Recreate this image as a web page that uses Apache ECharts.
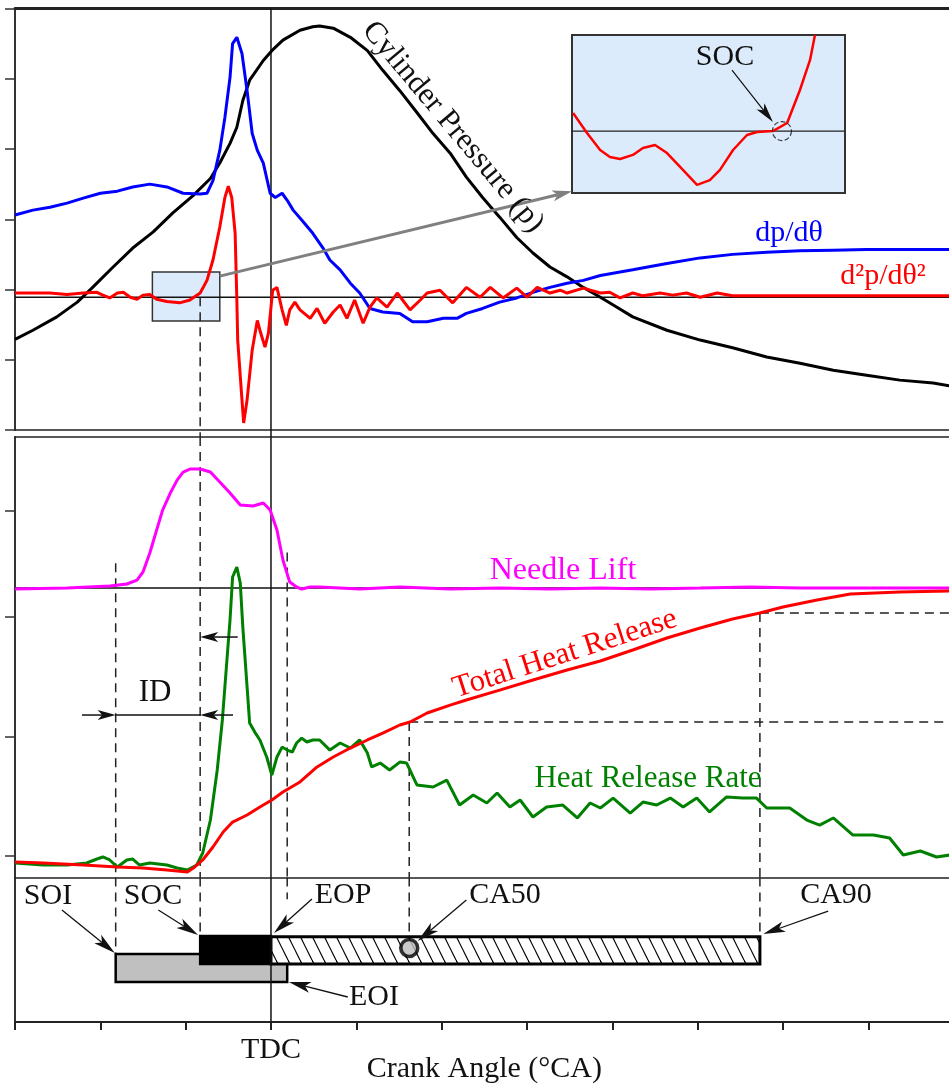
<!DOCTYPE html>
<html>
<head>
<meta charset="utf-8">
<title>Combustion event schematic</title>
<script src="https://cdn.jsdelivr.net/npm/echarts@6/dist/echarts.min.js"></script>
<style>
  html, body { margin: 0; padding: 0; background: #fff; }
  #chart { width: 949px; height: 1083px; }
</style>
</head>
<body>
<div id="chart"></div>
<script>
// x: crank angle in degrees, TDC = 0. y: arbitrary units per panel
const crankMin = -30
const crankMax = 80
const crankStep = 10
const tickLabels = { 0: 'TDC' }
const midTicks = [0, 9.94, 19.9, 28.8]

// events (°CA)
const SOI = -18.2
const SOC = -8.3
const TDC = 0
const EOI = 1.9
const CA50 = 16.2
const CA90 = 57.3

// reference levels
const topZero = 18.9      // d2p/dθ2 = 0
const needleBase = 22.33  // needle lift = 0
const thrAt50 = 11.17
const thrAt90 = 20.25

// top panel
const cylPressure = [[-30.0,12.9],[-27.9,14.2],[-25.1,16.1],[-22.7,18.2],[-20.9,20.3],[-18.5,23.2],[-16.2,25.9],[-13.8,28.2],[-11.5,30.9],[-9.1,33.4],[-7.1,35.8],[-6.0,38.0],[-4.8,40.8],[-4.0,43.1],[-3.3,46.9],[-2.5,49.8],[-0.9,52.6],[0.1,54.0],[1.4,55.5],[3.4,56.9],[4.9,57.4],[5.7,57.5],[7.3,57.2],[9.3,55.9],[11.3,54.0],[13.1,51.2],[15.1,48.3],[17.1,45.2],[19.0,42.2],[21.0,39.4],[22.9,36.0],[24.8,33.1],[26.8,30.3],[28.8,27.4],[30.7,25.2],[32.7,23.2],[34.7,21.8],[36.6,20.3],[38.6,18.9],[40.5,17.5],[42.4,16.1],[46.4,14.2],[50.3,12.8],[54.1,11.7],[58.1,10.4],[62.0,9.5],[65.9,8.5],[69.8,7.8],[73.7,7.1],[77.6,6.7],[79.5,6.3]]

const dpdTheta = [[-30.0,30.6],[-27.9,31.3],[-25.9,31.7],[-23.9,32.3],[-22.0,33.0],[-20.0,33.7],[-18.0,34.0],[-16.2,34.6],[-14.2,35.0],[-12.2,34.6],[-10.3,33.7],[-8.3,33.6],[-7.5,33.7],[-6.8,35.5],[-6.0,39.8],[-5.4,44.5],[-4.8,50.2],[-4.5,55.0],[-4.0,55.9],[-3.4,53.6],[-2.8,48.3],[-2.2,42.2],[-1.6,39.8],[-0.9,38.0],[-0.1,33.7],[0.5,33.1],[1.3,33.7],[1.9,32.7],[2.6,31.3],[3.6,29.9],[4.9,28.0],[6.1,25.9],[6.9,24.2],[8.1,22.8],[9.3,20.9],[10.4,19.5],[11.6,17.3],[13.1,16.8],[15.1,16.6],[16.6,15.4],[18.3,15.4],[20.2,15.9],[21.8,15.9],[22.9,16.6],[24.8,17.3],[26.8,18.2],[28.8,18.8],[30.7,19.6],[32.7,20.3],[34.7,20.9],[36.6,21.3],[38.6,22.0],[42.4,22.8],[46.4,23.7],[50.3,24.5],[54.1,25.0],[58.1,25.3],[62.0,25.5],[65.9,25.6],[69.8,25.7],[79.5,25.7]]

const d2pdTheta2 = [[-30.0,19.5],[-28.6,19.5],[-25.9,19.5],[-23.9,19.3],[-22.0,19.5],[-20.4,19.6],[-19.7,19.2],[-18.9,18.8],[-18.0,19.5],[-17.3,19.6],[-16.5,18.9],[-15.7,18.6],[-15.0,19.2],[-14.2,19.3],[-13.4,18.6],[-12.2,18.3],[-10.7,18.1],[-9.5,18.5],[-8.3,19.5],[-7.5,21.3],[-6.8,24.2],[-6.0,28.9],[-5.4,33.1],[-5.0,34.7],[-4.6,33.1],[-4.2,28.0],[-4.0,18.5],[-3.9,12.8],[-3.4,4.3],[-3.2,1.0],[-2.8,4.3],[-2.2,11.4],[-1.6,15.6],[-1.3,14.2],[-0.7,11.8],[-0.3,13.8],[0.2,19.9],[0.7,20.3],[1.3,17.1],[1.8,14.9],[2.2,17.1],[2.8,18.2],[3.4,17.1],[4.6,15.9],[5.4,17.3],[6.3,15.2],[7.3,16.8],[8.1,17.8],[8.9,15.9],[9.8,18.5],[10.8,15.2],[11.6,17.5],[12.4,18.8],[13.6,17.5],[14.8,19.5],[16.3,17.1],[17.5,18.5],[18.3,19.5],[19.8,19.9],[21.3,18.1],[22.9,20.3],[24.5,18.9],[25.7,20.3],[27.2,18.8],[28.8,20.2],[30.0,18.9],[31.2,20.3],[32.7,19.5],[33.9,19.9],[34.7,19.5],[36.6,20.2],[38.6,19.5],[39.7,19.6],[40.9,18.8],[42.4,19.5],[43.6,19.1],[45.6,19.5],[47.1,19.2],[48.7,19.5],[50.3,18.9],[52.3,19.5],[54.1,19.1],[58.1,19.1],[79.5,19.1]]

// zoomed inset (local 0..100 units)
const insetD2p = [[0.4,50.6],[5.5,38.0],[10.3,27.2],[13.9,22.8],[17.6,21.5],[22.3,24.1],[26.0,28.5],[30.4,30.4],[34.8,25.3],[39.6,16.5],[45.8,5.1],[50.5,8.2],[54.2,14.6],[59.0,27.2],[64.1,36.7],[67.8,38.6],[73.6,39.2],[78.8,44.3],[83.5,65.2],[87.2,84.2],[89.0,100]]
const insetZero = 39.2
const insetSoc = [76.9, 39.2]

// middle panel
const needleLift = [[-30.0,22.25],[-23.9,22.33],[-18.9,22.5],[-16.9,22.67],[-15.7,23.0],[-15.0,23.67],[-14.2,25.25],[-13.4,27.17],[-12.7,28.83],[-11.8,30.25],[-11.0,31.33],[-10.3,32.0],[-9.5,32.25],[-8.3,32.25],[-7.1,32.0],[-6.0,31.17],[-4.8,30.25],[-3.6,29.25],[-2.1,29.17],[-0.9,29.42],[-0.1,28.83],[0.7,27.17],[1.4,24.67],[2.2,22.83],[3.0,22.42],[3.6,22.25],[4.6,22.42],[5.7,22.42],[10.4,22.25],[15.1,22.42],[21.0,22.25],[26.8,22.33],[32.7,22.25],[38.6,22.33],[44.4,22.25],[50.3,22.33],[56.2,22.42],[62.0,22.33],[67.9,22.33],[79.5,22.33]]

const totalHeat = [[-30.0,-0.5],[-26.7,-0.58],[-22.0,-0.75],[-18.0,-0.92],[-15.0,-1.0],[-12.2,-1.17],[-9.8,-1.33],[-9.1,-1.0],[-8.0,-0.33],[-6.8,0.75],[-5.6,2.0],[-4.5,2.83],[-2.8,3.42],[-1.3,4.08],[0.1,4.67],[1.4,5.33],[3.4,6.17],[5.4,7.42],[7.3,8.25],[9.3,9.0],[11.3,9.67],[13.1,10.25],[15.1,10.92],[16.3,11.17],[18.3,11.92],[21.0,12.58],[22.9,13.0],[26.8,13.83],[30.7,14.67],[34.7,15.5],[38.6,16.25],[42.4,17.17],[46.4,18.17],[50.3,19.0],[54.1,19.75],[57.3,20.25],[60.0,20.75],[64.0,21.33],[67.9,21.83],[73.7,22.0],[79.5,22.08]]

const heatRate = [[-30.0,-0.58],[-26.7,-0.75],[-23.9,-0.75],[-21.6,-0.58],[-20.4,-0.25],[-19.7,-0.08],[-18.9,-0.33],[-18.0,-0.92],[-16.9,-0.33],[-16.2,-0.25],[-15.4,-0.75],[-14.2,-0.58],[-12.2,-0.75],[-11.0,-1.0],[-9.8,-1.17],[-8.7,-0.75],[-8.0,0.25],[-7.1,3.0],[-6.3,7.17],[-5.7,11.33],[-5.1,16.92],[-4.8,19.67],[-4.5,23.25],[-4.0,24.08],[-3.6,22.75],[-3.3,19.08],[-2.8,14.08],[-2.5,11.08],[-1.9,10.33],[-1.3,9.67],[-0.5,8.25],[0.1,6.75],[0.7,8.25],[1.3,9.08],[1.9,8.83],[2.5,8.67],[3.0,9.42],[3.6,9.83],[4.2,9.5],[4.9,9.67],[5.7,9.67],[6.9,8.83],[8.1,9.42],[9.3,9.0],[10.4,9.67],[11.3,8.58],[11.8,7.42],[12.8,7.75],[13.9,7.17],[15.1,7.83],[15.9,7.75],[17.1,5.92],[19.0,5.75],[20.6,6.33],[22.1,4.25],[23.7,5.08],[25.3,4.42],[26.5,5.25],[28.0,4.08],[29.2,4.67],[30.7,3.25],[32.3,4.08],[34.2,4.25],[35.9,3.17],[37.4,4.42],[38.6,4.0],[40.1,4.83],[42.1,3.58],[43.6,4.5],[45.2,4.25],[46.8,4.83],[48.3,4.08],[49.9,4.83],[51.4,3.67],[53.4,4.92],[55.3,4.83],[56.9,4.83],[58.1,4.0],[60.8,4.0],[62.8,3.0],[64.3,2.58],[65.9,3.17],[68.2,1.75],[70.6,1.75],[72.5,1.5],[74.1,0.08],[76.1,0.42],[78.0,-0.08],[79.5,0.08]]

// bottom panel: [start, end, low, high]
const injectionBar = [SOI, EOI, 2.77, 4.71]
const premixedBar = [SOC, TDC, 4.01, 5.95]
const diffusionBar = [TDC, CA90, 4.01, 5.9]
const ca50Mark = [CA50, 5.12]

// annotation arrows [x1, y1, x2, y2] (tail -> tip)
const zoomArrow = [[-6.0, 21.9, 35.3, 34.0]]
const insetArrow = [[58.6, 77.8, 73.6, 44.9]]
const idArrows = [[-22.15, 11.75, SOI, 11.75], [-4.45, 11.75, SOC, 11.75], [-3.9, 18.25, SOC, 18.25]]
const idLine = [[SOI, 11.75, SOC, 11.75]]
const eventArrows = [[-24.5, 7.75, -18.3, 4.78], [-13.2, 7.75, -8.55, 6.02], [4.8, 8.51, 0.35, 6.16], [22.9, 8.44, 17.2, 5.6], [65.3, 7.68, 57.7, 6.09], [9.0, 1.73, 2.1, 2.77]]
const zoomBox = [[-13.9, -6.0, 15.5, 22.5]]

const midMin = -1.79
const midMax = 34.92

const FONT = '"Liberation Serif", "Times New Roman", serif'
const INK = '#111'

// hatch for the diffusion bar
const hatch = document.createElement('canvas')
hatch.width = 12
hatch.height = 24
const hctx = hatch.getContext('2d')
hctx.fillStyle = '#fff'
hctx.fillRect(0, 0, 12, 24)
hctx.strokeStyle = '#000'
hctx.lineWidth = 1.2
;[-12, 0, 12].forEach(o => {
    hctx.beginPath()
    hctx.moveTo(o, 0)
    hctx.lineTo(o + 12, 24)
    hctx.stroke()
})

// [xAxisIndex, yAxisIndex] per grid
const AX = [[0, 0], [3, 1], [4, 2], [5, 3]]

function segments(g, rows, style, z) {
    return {
        type: 'custom', coordinateSystem: 'cartesian2d',
        xAxisIndex: AX[g][0], yAxisIndex: AX[g][1],
        data: rows, z: z || 2, silent: true, clip: false,
        renderItem: (params, api) => {
            const a = api.coord([api.value(0), api.value(1)])
            const b = api.coord([api.value(2), api.value(3)])
            return { type: 'line', shape: { x1: a[0], y1: a[1], x2: b[0], y2: b[1] }, style }
        }
    }
}

function arrows(g, rows, color, width, L, W, z) {
    return {
        type: 'custom', coordinateSystem: 'cartesian2d',
        xAxisIndex: AX[g][0], yAxisIndex: AX[g][1],
        data: rows, z: z || 5, silent: true, clip: false,
        renderItem: (params, api) => {
            const a = api.coord([api.value(0), api.value(1)])
            const b = api.coord([api.value(2), api.value(3)])
            const dx = b[0] - a[0], dy = b[1] - a[1]
            const len = Math.hypot(dx, dy)
            const ux = dx / len, uy = dy / len
            const bx = b[0] - ux * L, by = b[1] - uy * L
            const nx = b[0] - ux * L * 0.75, ny = b[1] - uy * L * 0.75
            return {
                type: 'group',
                children: [
                    { type: 'line', shape: { x1: a[0], y1: a[1], x2: nx, y2: ny }, style: { stroke: color, lineWidth: width } },
                    { type: 'polygon', shape: { points: [b, [bx - uy * W / 2, by + ux * W / 2], [nx, ny], [bx + uy * W / 2, by - ux * W / 2]] }, style: { fill: color } }
                ]
            }
        }
    }
}

function bar(row, style) {
    return {
        type: 'custom', coordinateSystem: 'cartesian2d',
        xAxisIndex: 4, yAxisIndex: 2, data: [row], z: 4, silent: true,
        renderItem: (params, api) => {
            const p0 = api.coord([api.value(0), api.value(3)])
            const p1 = api.coord([api.value(1), api.value(2)])
            return { type: 'rect', shape: { x: p0[0], y: p0[1], width: p1[0] - p0[0], height: p1[1] - p0[1] }, style }
        }
    }
}

function curve(g, data, color, width) {
    return {
        type: 'line', xAxisIndex: AX[g][0], yAxisIndex: AX[g][1],
        data, showSymbol: false, z: 3, silent: true,
        lineStyle: { color, width: width || 3 }
    }
}

const dashed = { stroke: '#222', lineWidth: 1.5, lineDash: [9, 6] }
const solid = { stroke: '#111', lineWidth: 1.5 }

const plainX = (grid, pos, w) => ({
    type: 'value', gridIndex: grid, position: pos,
    min: crankMin, max: crankMax, interval: crankStep,
    axisLine: { onZero: false, lineStyle: { color: '#222', width: w } },
    axisTick: { show: false }, axisLabel: { show: false }, splitLine: { show: false }
})

function txt(text, x, y, color, size, rot) {
    return {
        type: 'text', x, y, rotation: rot || 0, z: 10, silent: true,
        style: {
            text, fill: color, font: size + 'px ' + FONT,
            textAlign: 'center', textVerticalAlign: 'middle',
            align: 'center', verticalAlign: 'middle'
        }
    }
}

const chart = echarts.init(document.getElementById('chart'), null, { renderer: 'canvas' })

const panel = (top, height) => ({ left: 15, top, width: 938.6, height, outerBoundsMode: 'none', containLabel: false })

chart.setOption({
    animation: false,
    backgroundColor: '#fff',
    grid: [
        panel(8.5, 421.5),
        panel(437, 440.5),
        panel(877.5, 144.5),
        { left: 572, top: 35, width: 273, height: 158, outerBoundsMode: 'none', show: true, backgroundColor: '#dcebfb', borderColor: '#333', borderWidth: 2 }
    ],
    xAxis: [
        plainX(0, 'bottom', 1.5),
        plainX(0, 'top', 3),
        plainX(1, 'top', 1.5),
        plainX(1, 'bottom', 1.5),
        {
            type: 'value', gridIndex: 2, position: 'bottom',
            min: crankMin, max: crankMax, interval: crankStep,
            axisLine: { onZero: false, lineStyle: { color: '#222', width: 2 } },
            axisTick: { inside: false, length: 8, lineStyle: { color: '#222', width: 2 } },
            axisLabel: { formatter: v => tickLabels[v] || '', margin: 13, fontSize: 30, fontFamily: FONT, color: INK },
            splitLine: { show: false },
            name: 'Crank Angle (°CA)', nameLocation: 'middle', nameGap: 32, nameMoveOverlap: false,
            nameTextStyle: { fontSize: 30, fontFamily: FONT, color: INK }
        },
        { type: 'value', gridIndex: 3, min: 0, max: 100, show: false }
    ],
    yAxis: [
        {
            type: 'value', gridIndex: 0, min: 0, max: 60, interval: 10,
            axisLine: { show: true, onZero: false, lineStyle: { color: '#333', width: 2 } },
            axisTick: { show: true, inside: false, length: 10, lineStyle: { color: '#333', width: 1.5 } },
            axisLabel: { show: false }, splitLine: { show: false }
        },
        {
            type: 'value', gridIndex: 1, min: midMin, max: midMax,
            axisLine: { show: true, onZero: false, lineStyle: { color: '#333', width: 2 } },
            axisTick: { show: true, inside: false, length: 10, customValues: midTicks, lineStyle: { color: '#333', width: 1.5 } },
            axisLabel: { show: false }, splitLine: { show: false }
        },
        {
            type: 'value', gridIndex: 2, min: 0, max: 10,
            axisLine: { show: true, onZero: false, lineStyle: { color: '#333', width: 2 } },
            axisTick: { show: false }, axisLabel: { show: false }, splitLine: { show: false }
        },
        { type: 'value', gridIndex: 3, min: 0, max: 100, show: false }
    ],
    series: [
        // zoom window in the top panel
        {
            type: 'custom', coordinateSystem: 'cartesian2d', xAxisIndex: 0, yAxisIndex: 0,
            data: zoomBox, z: 1, silent: true,
            renderItem: (params, api) => {
                const p0 = api.coord([api.value(0), api.value(3)])
                const p1 = api.coord([api.value(1), api.value(2)])
                return { type: 'rect', shape: { x: p0[0], y: p0[1], width: p1[0] - p0[0], height: p1[1] - p0[1] }, style: { fill: '#dcebfb', stroke: '#333', lineWidth: 1.5 } }
            }
        },
        // reference lines
        segments(0, [[crankMin, topZero, crankMax, topZero]], solid),
        segments(1, [[crankMin, needleBase, crankMax, needleBase]], solid),
        segments(3, [[0, insetZero, 100, insetZero]], { stroke: '#222', lineWidth: 1.2 }),
        segments(0, [[TDC, 60, TDC, -1.0]], solid),
        segments(1, [[TDC, midMax, TDC, midMin]], solid),
        segments(2, [[TDC, 10, TDC, 0]], solid, 6),
        // event markers
        segments(0, [[SOC, topZero, SOC, -1.0]], dashed),
        segments(1, [
            [SOI, 24.4, SOI, midMin],
            [SOC, midMax, SOC, midMin],
            [EOI, 25.3, EOI, midMin],
            [CA50, thrAt50, CA50, midMin],
            [CA90, thrAt90, CA90, midMin],
            [CA50, thrAt50, crankMax, thrAt50],
            [CA90, thrAt90, crankMax, thrAt90]
        ], dashed),
        segments(2, [
            [SOI, 10, SOI, injectionBar[3]],
            [SOC, 10, SOC, premixedBar[3]],
            [EOI, 10, EOI, 8.5],
            [CA50, 10, CA50, diffusionBar[3]],
            [CA90, 10, CA90, diffusionBar[3]]
        ], dashed),
        // curves
        curve(0, cylPressure, '#000'),
        curve(0, dpdTheta, '#0000ff'),
        curve(0, d2pdTheta2, '#ff0000'),
        curve(3, insetD2p, '#ff0000', 2.5),
        curve(1, needleLift, '#ff00ff'),
        curve(1, heatRate, '#008000'),
        curve(1, totalHeat, '#ff0000'),
        {
            type: 'scatter', xAxisIndex: 5, yAxisIndex: 3, data: [insetSoc], symbolSize: 19, z: 4, silent: true,
            itemStyle: { color: 'rgba(0,0,0,0)', borderColor: '#111', borderWidth: 1.2, borderType: 'dashed' }
        },
        // phase bars
        bar(injectionBar, { fill: '#c0c0c0', stroke: '#000', lineWidth: 2.5 }),
        bar(premixedBar, { fill: '#000', stroke: '#000', lineWidth: 2.5 }),
        bar(diffusionBar, { fill: { image: hatch, repeat: 'repeat' }, stroke: '#000', lineWidth: 3 }),
        {
            type: 'scatter', xAxisIndex: 4, yAxisIndex: 2, data: [ca50Mark], symbolSize: 17, z: 7, silent: true,
            itemStyle: { color: '#bdbdbd', borderColor: '#000', borderWidth: 3.5 }
        },
        // arrows
        arrows(0, zoomArrow, '#808080', 3, 20, 11),
        arrows(3, insetArrow, '#111', 1.2, 20, 10),
        segments(1, idLine, { stroke: '#111', lineWidth: 1.5 }),
        arrows(1, idArrows, '#111', 1.5, 18, 10),
        arrows(2, eventArrows, '#111', 1.3, 22, 11, 8)
    ],
    graphic: {
        elements: [
            txt('Cylinder Pressure (p)', 453, 127, INK, 31, -0.873),
            txt('dp/dθ', 789, 233, '#0000ff', 30),
            txt('d²p/dθ²', 883, 276, '#ff0000', 30),
            txt('SOC', 725, 57, INK, 30),
            txt('Needle Lift', 563, 571, '#ff00ff', 32),
            txt('Total Heat Release', 565, 654, '#ff0000', 31, 0.312),
            txt('Heat Release Rate', 648, 779, '#008000', 31),
            txt('ID', 155, 693, INK, 31),
            txt('SOI', 48, 896, INK, 30),
            txt('SOC', 153, 896, INK, 30),
            txt('EOP', 343, 895, INK, 30),
            txt('CA50', 505, 895, INK, 30),
            txt('CA90', 836, 895, INK, 30),
            txt('EOI', 374, 997, INK, 30)
        ]
    }
})
</script>
</body>
</html>
